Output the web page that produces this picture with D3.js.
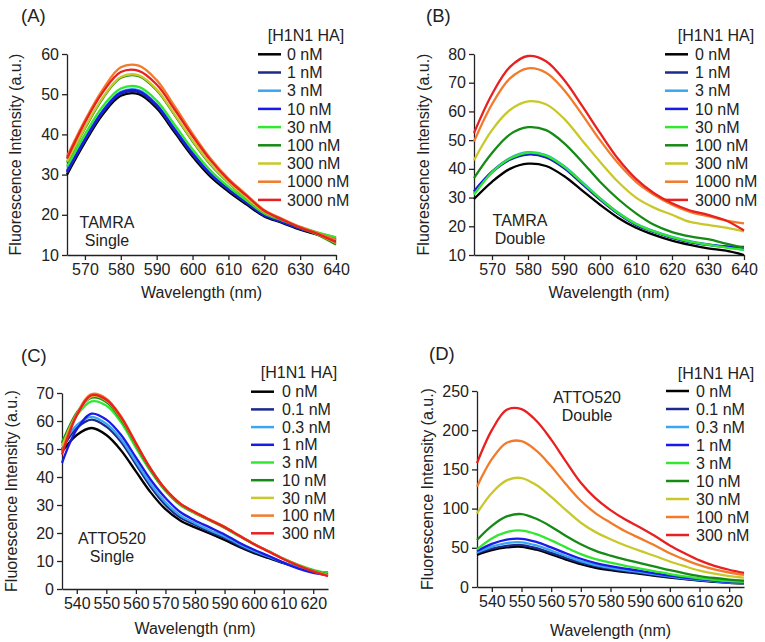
<!DOCTYPE html>
<html><head><meta charset="utf-8">
<script src="https://cdn.jsdelivr.net/npm/d3@7/dist/d3.min.js"></script>
<style>body{margin:0;background:#fff}text{font-family:"Liberation Sans",Arial,sans-serif;fill:#222}</style>
</head><body><svg id="c" width="765" height="642"></svg>
<script>
// ---------- data ----------
const wlTamra = [565,570,575,580,585,590,595,600,605,610,615,620,625,630,635,640];
const wlAtto  = [535,540,545,550,555,560,565,570,575,580,585,590,595,600,605,610,615,620,625];
const concTamra = ["0 nM","1 nM","3 nM","10 nM","30 nM","100 nM","300 nM","1000 nM","3000 nM"];
const concAtto  = ["0 nM","0.1 nM","0.3 nM","1 nM","3 nM","10 nM","30 nM","100 nM","300 nM"];
const seriesColors = ["#000000","#1c2a8c","#3aa6f0","#1a1ae6","#30e830","#158a15","#c8c82a","#f27a2a","#e82020"];

const tamraSingle = [
  [30.0,38.0,45.0,49.6,50.0,46.5,40.5,34.5,29.5,25.8,22.6,19.6,18.0,16.3,15.0,13.5],
  [30.5,38.5,45.5,50.1,50.5,47.0,41.0,35.0,30.0,26.2,23.0,19.9,18.2,16.5,15.2,13.8],
  [31.0,39.0,46.0,50.6,51.0,47.5,41.5,35.5,30.3,26.5,23.2,20.0,18.3,16.7,15.5,14.3],
  [30.8,38.8,45.8,50.4,50.8,47.3,41.3,35.3,30.2,26.4,23.1,19.9,18.2,16.6,15.3,14.0],
  [32.0,40.0,47.0,51.4,51.8,48.4,42.4,36.3,31.0,27.0,23.6,20.3,18.6,17.0,15.6,14.4],
  [33.0,41.5,49.0,54.1,54.5,51.0,44.8,38.3,32.5,28.0,24.2,20.6,18.7,16.8,15.0,12.6],
  [33.2,41.7,49.2,54.3,54.7,51.2,45.0,38.5,32.7,28.1,24.3,20.7,18.8,16.9,15.1,13.0],
  [34.5,43.5,51.2,56.7,57.1,53.5,47.0,40.2,34.0,29.0,25.0,21.2,19.0,17.0,15.4,13.8],
  [34.0,43.0,50.5,55.5,55.8,52.4,46.2,39.6,33.6,28.7,24.8,21.0,18.8,16.8,15.2,13.2]
];
const tamraDouble = [
  [29.5,35.5,40.0,41.8,41.0,37.5,32.5,27.5,23.0,19.5,17.0,15.0,13.5,12.3,11.5,10.0],
  [32.0,38.8,43.2,45.0,44.0,40.3,34.8,29.3,24.4,20.5,18.0,16.0,14.5,13.5,12.8,12.5],
  [31.5,39.0,43.8,45.8,44.8,41.0,35.5,29.8,24.8,20.9,18.3,16.3,14.8,13.7,12.8,11.8],
  [32.2,39.0,43.5,45.3,44.3,40.5,35.0,29.5,24.5,20.6,18.1,16.1,14.6,13.6,13.0,12.8],
  [31.0,38.8,43.6,45.6,44.6,40.8,35.3,29.7,24.7,20.8,18.2,16.2,14.7,13.6,12.6,11.8],
  [36.8,45.5,52.0,54.5,53.5,49.0,42.5,35.5,29.5,24.5,20.5,18.0,16.5,15.5,14.0,12.5],
  [43.0,53.5,60.5,63.5,62.5,57.5,50.0,42.5,35.5,30.0,26.5,24.0,21.5,20.5,19.5,18.2],
  [49.5,62.5,71.5,75.0,73.5,67.5,59.0,50.0,42.0,35.5,31.0,27.5,25.0,23.5,22.0,21.0],
  [52.5,66.0,75.5,79.3,77.5,71.0,62.0,52.5,43.5,36.5,31.5,28.0,25.5,24.0,22.0,18.5]
];
const attoSingle = [
  [49.0,55.0,57.5,55.0,49.5,42.0,34.5,28.5,24.5,22.0,19.8,17.5,15.0,12.8,11.0,9.2,7.8,6.5,5.5],
  [50.0,57.5,60.5,58.0,52.5,44.5,36.5,30.0,25.5,23.0,20.5,18.3,15.5,13.2,11.3,9.3,7.6,6.3,5.8],
  [51.0,58.5,61.5,59.0,53.5,45.5,37.5,31.0,26.3,23.5,21.0,18.8,16.0,13.6,11.5,9.4,7.6,6.2,6.0],
  [45.0,57.0,62.6,60.5,55.0,47.0,39.0,32.5,27.5,24.5,22.0,19.5,16.5,14.0,11.8,9.4,7.3,5.8,5.0],
  [52.5,62.0,67.0,65.5,59.5,50.5,42.0,35.0,30.0,27.0,24.5,21.8,18.8,16.0,13.5,10.8,8.6,6.8,5.5],
  [52.0,63.0,68.3,66.8,60.5,51.5,42.5,35.3,30.2,27.2,24.6,22.0,19.0,16.0,13.4,10.8,8.5,6.6,5.2],
  [51.0,62.5,68.8,67.3,61.0,51.8,42.8,35.5,30.4,27.3,24.7,22.1,19.0,16.1,13.4,10.8,8.5,6.5,5.0],
  [49.0,62.5,69.6,68.0,61.6,52.2,43.0,35.7,30.6,27.5,24.8,22.2,19.1,16.1,13.4,10.7,8.4,6.4,4.8],
  [48.0,62.0,69.2,67.6,61.3,52.0,42.9,35.6,30.5,27.4,24.7,22.1,19.0,16.0,13.3,10.6,8.3,6.3,4.6]
];
const attoDouble = [
  [41,47.0,50.5,51.3,47.5,41.5,35.0,29.0,24.5,21.5,19.0,16.8,14.3,12.0,10.0,8.2,6.6,5.3,4.5],
  [43,49.0,52.5,53.5,49.5,43.5,37.0,31.0,26.5,23.0,20.3,18.0,15.3,12.8,10.5,8.7,7.0,5.7,4.8],
  [44,51.5,56.0,57.0,53.0,46.5,39.5,33.0,28.0,24.5,21.5,19.0,16.2,13.5,11.0,9.2,7.5,6.0,5.0],
  [46,55.0,60.5,61.5,57.5,50.5,43.0,36.0,30.5,26.5,23.5,20.5,17.5,14.5,12.0,10.0,8.0,6.5,5.5],
  [48,62.0,70.0,72.0,67.5,59.5,50.5,42.0,35.5,31.0,27.0,23.5,20.0,16.5,13.5,11.0,9.0,7.5,6.5],
  [60,78.0,90.0,93.0,87.0,77.0,65.0,54.5,46.0,40.0,35.0,30.5,26.0,21.5,17.5,14.0,11.5,9.5,8.0],
  [94,120,136,139,130,115,98,82,70,61,53,46,39.5,32.5,26.5,21,17,14,12],
  [128,163,184,186,174,154,131,110,94,82,71,62,53,43,35,28,22.5,18.5,15.5],
  [158,200,226,227,212,188,160,133,113,98,86,76,65,53,43,34,27,22,18]
];

const yTicksA = [10,20,30,40,50,60];
const yTicksB = [10,20,30,40,50,60,70,80];
const yTicksC = [0,10,20,30,40,50,60,70];
const yTicksD = [0,50,100,150,200,250];
const xTicksTamra = [570,580,590,600,610,620,630,640];
const xTicksAtto = [540,550,560,570,580,590,600,610,620];

// ---------- layout ----------
const FS = 16;
const panels = [
  {tag:"(A)", tagX:21, tagY:22, x0:67, x1:336, y0:54, y1:255, xd:[565,640], yd:[10,60], xt:xTicksTamra, yt:yTicksA,
   wl:wlTamra, data:tamraSingle, conc:concTamra, note:["TAMRA","Single"], noteX:107, noteY:228,
   leg:{x:258, ty:35, y:54.3, dy:18.2, tx:287, titleX:306}, yTitleX:15, xTitleY:298},
  {tag:"(B)", tagX:426, tagY:22, x0:474, x1:744, y0:54, y1:255, xd:[565,640], yd:[10,80], xt:xTicksTamra, yt:yTicksB,
   wl:wlTamra, data:tamraDouble, conc:concTamra, note:["TAMRA","Double"], noteX:520, noteY:226,
   leg:{x:665, ty:35, y:54.3, dy:18.2, tx:695, titleX:716}, yTitleX:423, xTitleY:298},
  {tag:"(C)", tagX:21, tagY:362, x0:62, x1:328, y0:393, y1:589, xd:[535,625], yd:[0,70], xt:xTicksAtto, yt:yTicksC,
   wl:wlAtto, data:attoSingle, conc:concAtto, note:["ATTO520","Single"], noteX:112, noteY:544,
   leg:{x:251, ty:372, y:391.7, dy:17.7, tx:282, titleX:299}, yTitleX:11, xTitleY:634},
  {tag:"(D)", tagX:429, tagY:360, x0:477, x1:744, y0:391, y1:587, xd:[535,625], yd:[0,250], xt:xTicksAtto, yt:yTicksD,
   wl:wlAtto, data:attoDouble, conc:concAtto, note:["ATTO520","Double"], noteX:587, noteY:403,
   leg:{x:666, ty:373, y:391, dy:18, tx:696, titleX:716}, yTitleX:427, xTitleY:636}
];

const svg = d3.select("#c");

panels.forEach(p => {
  const g = svg.append("g");
  const x = d3.scaleLinear().domain(p.xd).range([p.x0, p.x1]);
  const y = d3.scaleLinear().domain(p.yd).range([p.y1, p.y0]);

  const xa = g.append("g").attr("transform", `translate(0,${p.y1})`)
    .call(d3.axisBottom(x).tickValues(p.xt).tickSize(5).tickSizeOuter(0).tickPadding(4));
  const ya = g.append("g").attr("transform", `translate(${p.x0},0)`)
    .call(d3.axisLeft(y).tickValues(p.yt).tickSize(5).tickSizeOuter(0).tickPadding(3));
  [xa, ya].forEach(a => {
    a.select(".domain").attr("stroke", "#222").attr("stroke-width", 1.3);
    a.selectAll(".tick line").attr("stroke", "#222").attr("stroke-width", 1.3);
    a.selectAll(".tick text").style("font-size", FS + "px").attr("fill", "#222");
  });

  const line = d3.line().x((d, i) => x(p.wl[i])).y(d => y(d)).curve(d3.curveCatmullRom.alpha(0.5));
  p.data.forEach((s, k) => {
    g.append("path").attr("d", line(s)).attr("fill", "none")
      .attr("stroke", seriesColors[k]).attr("stroke-width", 2.3).attr("stroke-linejoin", "round");
  });

  // labels
  g.append("text").attr("x", p.tagX).attr("y", p.tagY).style("font-size", "18.5px").text(p.tag);
  g.append("text").attr("transform", `translate(${p.yTitleX},${(p.y0 + p.y1) / 2}) rotate(-90)`)
    .attr("text-anchor", "middle").attr("dy", "0.35em").style("font-size", FS + "px").text("Fluorescence Intensity (a.u.)");
  g.append("text").attr("x", (p.x0 + p.x1) / 2).attr("y", p.xTitleY).attr("text-anchor", "middle")
    .style("font-size", FS + "px").text("Wavelength (nm)");
  p.note.forEach((t, i) => {
    g.append("text").attr("x", p.noteX).attr("y", p.noteY + i * 18).attr("text-anchor", "middle")
      .style("font-size", FS + "px").text(t);
  });

  // legend
  const L = p.leg;
  g.append("text").attr("x", L.titleX).attr("y", L.ty).attr("text-anchor", "middle").attr("dy", "0.35em")
    .style("font-size", FS + "px").text("[H1N1 HA]");
  p.conc.forEach((c, k) => {
    const yy = L.y + k * L.dy;
    g.append("line").attr("x1", L.x).attr("x2", L.x + 23).attr("y1", yy).attr("y2", yy)
      .attr("stroke", seriesColors[k]).attr("stroke-width", 2.5);
    g.append("text").attr("x", L.tx).attr("y", yy).attr("dy", "0.35em").style("font-size", FS + "px").text(c);
  });
});
</script></body></html>
